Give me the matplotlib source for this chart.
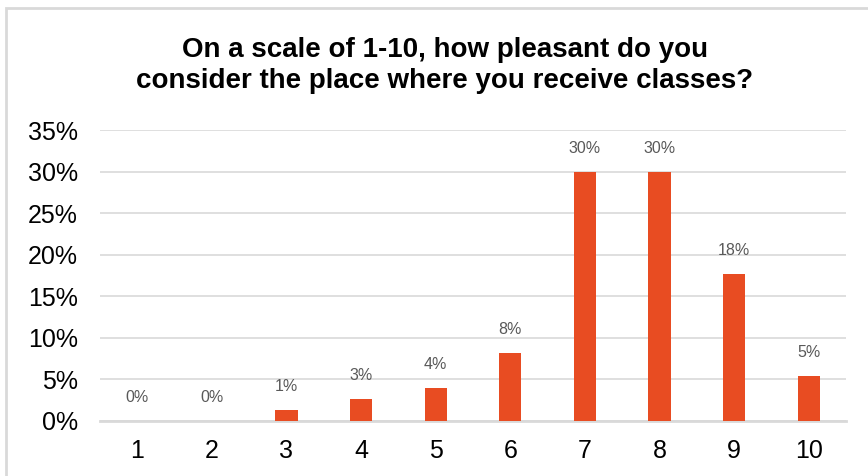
import matplotlib
matplotlib.use("Agg")
import matplotlib.pyplot as plt
from matplotlib.patches import Rectangle
from matplotlib.ticker import FuncFormatter, MultipleLocator

categories = ["1", "2", "3", "4", "5", "6", "7", "8", "9", "10"]
values = [0.0, 0.0, 1.3, 2.7, 4.0, 8.2, 30.0, 30.0, 17.7, 5.4]
labels = ["0%", "0%", "1%", "3%", "4%", "8%", "30%", "30%", "18%", "5%"]
title_lines = ["On a scale of 1-10, how pleasant do you",
               "consider the place where you receive classes?"]

plt.rcParams['font.family'] = ['Liberation Sans', 'DejaVu Sans']

fig = plt.figure(figsize=(8.68, 4.76), dpi=100)
ax = fig.add_axes([100/868, 1-421/476, 746/868, 291/476])

x = range(len(categories))
ax.bar(x, values, width=0.3, color="#E84C22", zorder=3)
for xi, v, lab in zip(x, values, labels):
    ax.text(xi, v + 1.9, lab, ha="center", va="bottom", fontsize=11.5, color="#595959")

ax.set_xlim(-0.5, len(categories) - 0.5)
ax.set_ylim(0, 35)
ax.yaxis.set_major_locator(MultipleLocator(5))
ax.yaxis.set_major_formatter(FuncFormatter(lambda v, p: f"{int(round(v))}%"))
ax.set_xticks(list(x))
ax.set_xticklabels(categories)
ax.tick_params(axis="both", length=0, labelsize=18, colors="#000000")
ax.tick_params(axis="x", pad=13)
ax.tick_params(axis="y", pad=16)
ax.grid(axis="y", color="#D9D9D9", linewidth=1.2, zorder=0)
for s in ["top", "right", "left"]:
    ax.spines[s].set_visible(False)
ax.spines["bottom"].set_color("#D9D9D9")
ax.spines["bottom"].set_linewidth(2)

for line, yb in zip(title_lines, [57, 88]):
    fig.text(445/868, 1-yb/476, line, ha="center", va="baseline", fontsize=20,
             fontweight="bold")

fig.patches.append(Rectangle((6/868, -0.1), 1.2, 1 - 8/476 + 0.1, transform=fig.transFigure,
                             fill=False, edgecolor="#D9D9D9", linewidth=2))

fig.savefig("out.png", dpi=100)
